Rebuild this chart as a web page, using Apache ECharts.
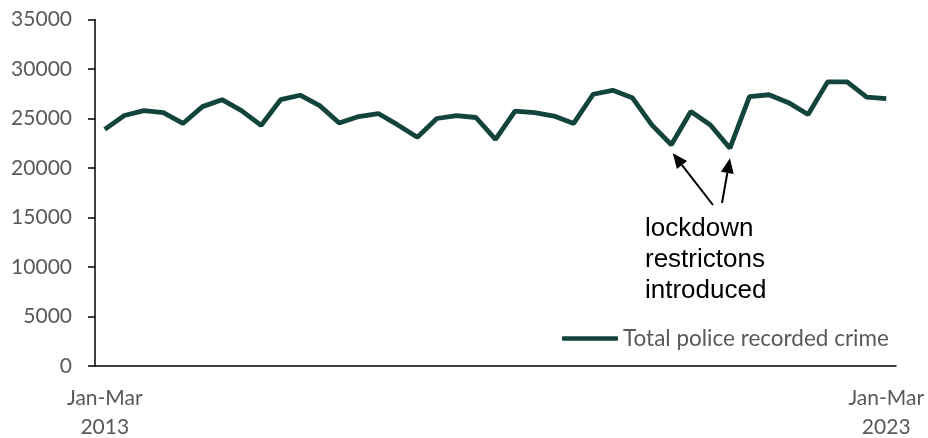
<!DOCTYPE html>
<html><head><meta charset="utf-8">
<script src="https://cdn.jsdelivr.net/npm/echarts@6/dist/echarts.min.js"></script>
<style>html,body{margin:0;padding:0;background:#fff}#c{width:928px;height:438px}</style>
</head><body><div id="c"></div>
<script>
const quarterNames = ['Jan-Mar', 'Apr-Jun', 'Jul-Sep', 'Oct-Dec'];
const years = [2013, 2014, 2015, 2016, 2017, 2018, 2019, 2020, 2021, 2022, 2023];
const categories = [];
years.forEach(y => quarterNames.forEach(q => { if (categories.length < 41) categories.push(q + ' ' + y); }));

const seriesName = 'Total police recorded crime';
const crime = [23900, 25300, 25800, 25600, 24500, 26200, 26900, 25800, 24300, 26900,
               27350, 26300, 24550, 25200, 25500, 24350, 23100, 25000, 25300, 25100,
               22900, 25750, 25600, 25250, 24500, 27450, 27850, 27100, 24350, 22350,
               25700, 24350, 22000, 27200, 27400, 26600, 25400, 28700, 28700, 27150, 27000];
const yTicks = [0, 5000, 10000, 15000, 20000, 25000, 30000, 35000];
const annotationLines = ['lockdown', 'restrictons', 'introduced'];
const annotatedIdx = [29, 32];

const chart = echarts.init(document.getElementById('c'), null, {renderer: 'canvas'});
const lineColor = '#12443b';
const labelFont = 'Lato, "Open Sans", sans-serif';
chart.setOption({
  animation: false,
  grid: {left: 95, right: 32, top: 19.5, bottom: 72, containLabel: false, outerBoundsMode: 'none'},
  legend: {
    data: [{name: seriesName, icon: 'roundRect'}], left: 557, top: 322, itemWidth: 56, itemHeight: 4.5, itemGap: 5,
    itemStyle: {color: lineColor, borderWidth: 0},
    textStyle: {color: '#595959', fontSize: 22.5, fontFamily: labelFont, padding: [0, 0, 0, 0]}
  },
  xAxis: {
    type: 'category', data: categories, boundaryGap: true,
    axisLine: {lineStyle: {color: '#000', width: 1.5}},
    axisTick: {show: false},
    axisLabel: {
      interval: (i) => i === 0 || i === categories.length - 1,
      formatter: (v) => v.replace(' ', '\n'),
      color: '#595959', fontSize: 21, fontFamily: labelFont, lineHeight: 29, margin: 18,
      showMinLabel: true, showMaxLabel: true
    }
  },
  yAxis: {
    type: 'value', min: yTicks[0], max: yTicks[yTicks.length - 1], interval: 5000,
    axisLine: {show: true, lineStyle: {color: '#000', width: 1.5}},
    axisTick: {show: true, length: 7, lineStyle: {color: '#000', width: 1.5}},
    splitLine: {show: false},
    axisLabel: {color: '#595959', fontSize: 21, fontFamily: labelFont, margin: 23, formatter: (v) => String(v)}
  },
  series: [{
    name: seriesName, type: 'line', data: crime, symbol: 'none', showSymbol: false,
    lineStyle: {color: lineColor, width: 4.8}, itemStyle: {color: lineColor}
  }]
});

// annotation arrows anchored to the annotated data points
const tails = [[713, 205], [722, 203]];
const tipOffsets = [[1.5, 8.5], [0, 10]];
const elements = [];
annotatedIdx.forEach((idx, k) => {
  const p = chart.convertToPixel({seriesIndex: 0}, [idx, crime[idx]]);
  const tip = [p[0] + tipOffsets[k][0], p[1] + tipOffsets[k][1]];
  const tail = tails[k];
  const dx = tip[0] - tail[0], dy = tip[1] - tail[1];
  const len = Math.sqrt(dx * dx + dy * dy);
  const ux = dx / len, uy = dy / len;
  const headLen = 15, headW = 6.5;
  const base = [tip[0] - ux * headLen, tip[1] - uy * headLen];
  elements.push({
    type: 'line', shape: {x1: tail[0], y1: tail[1], x2: base[0], y2: base[1]},
    style: {stroke: '#000', lineWidth: 2}
  });
  elements.push({
    type: 'polygon',
    shape: {points: [tip, [base[0] - uy * headW, base[1] + ux * headW], [base[0] + uy * headW, base[1] - ux * headW]]},
    style: {fill: '#000'}
  });
});
elements.push({
  type: 'text', left: 645, top: 213,
  style: {text: annotationLines.join('\n'), fill: '#000', font: '26px "Liberation Sans", Arial, sans-serif', lineHeight: 31}
});
chart.setOption({graphic: elements});
</script>
</body></html>
